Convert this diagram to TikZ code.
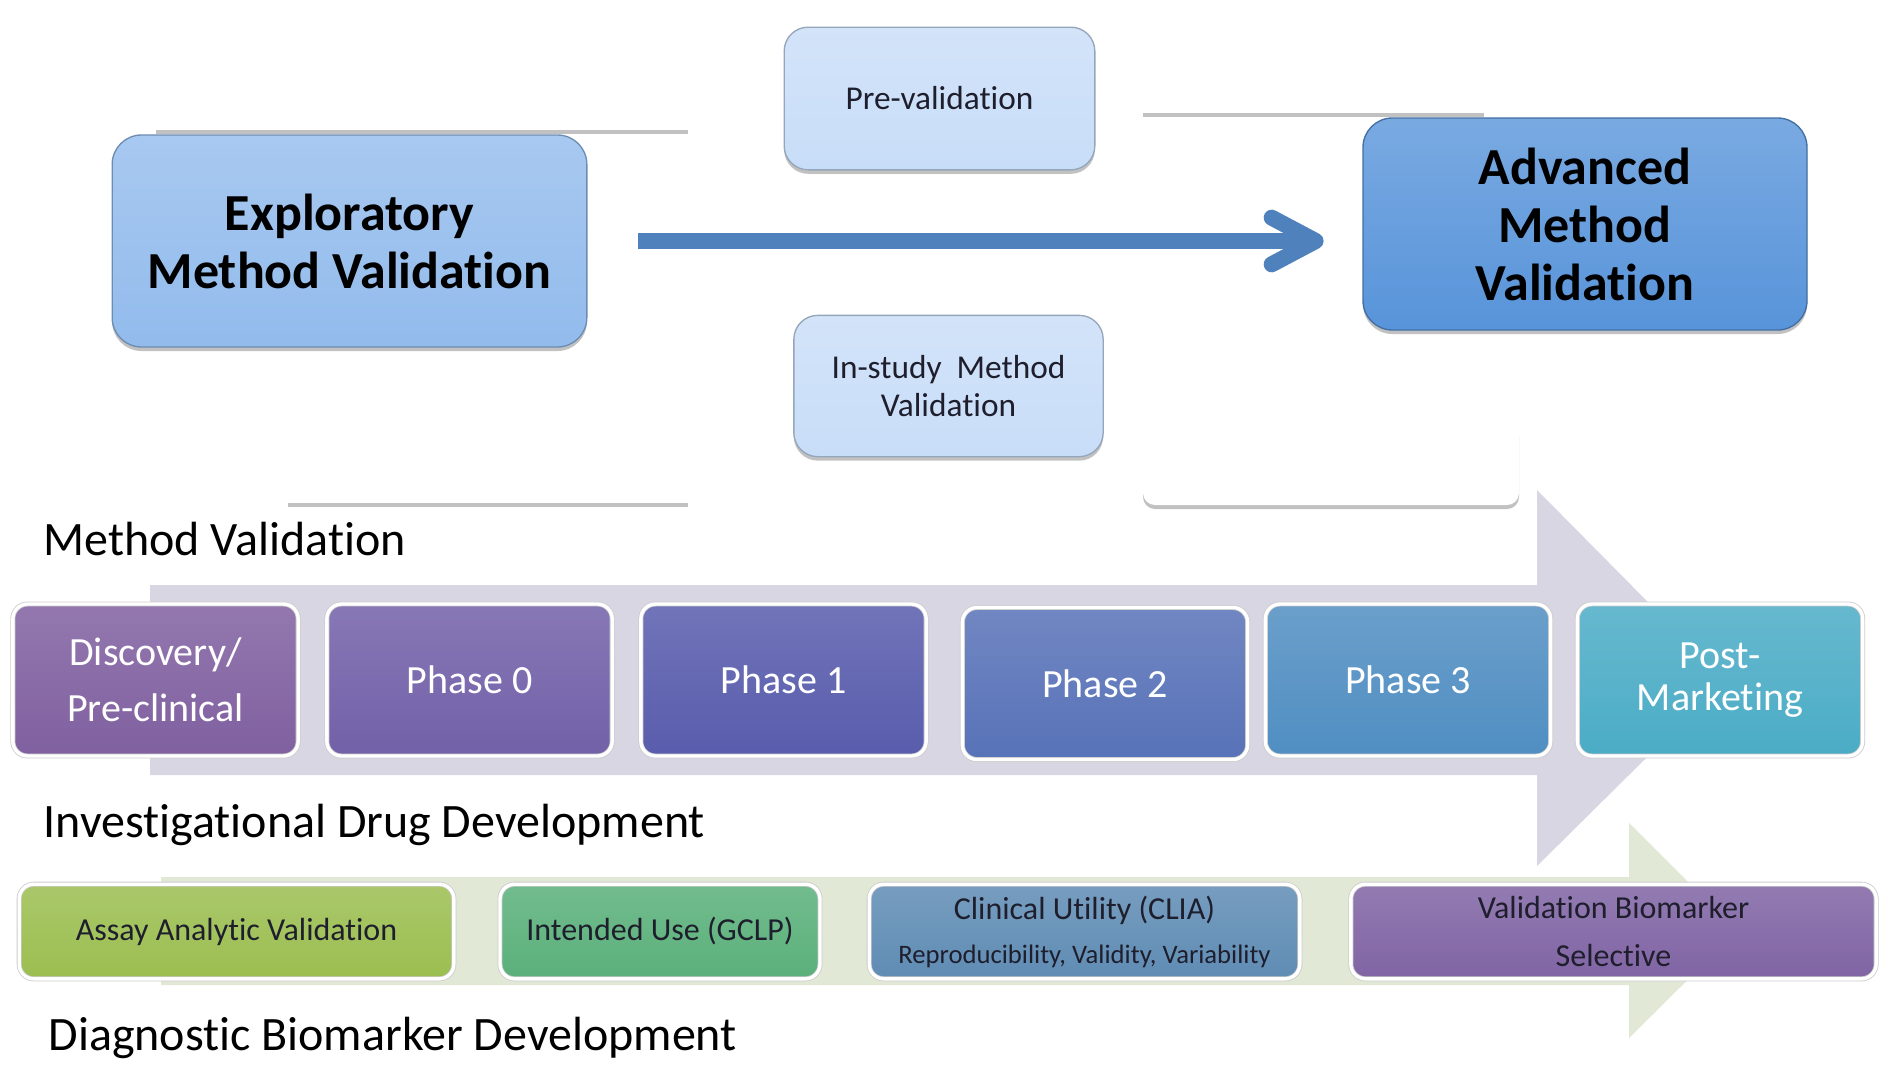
\documentclass[tikz,border=0pt]{standalone}
\usepackage{fontspec}
\setmainfont{Carlito}[Ligatures=NoCommon]
\usetikzlibrary{arrows.meta,shadows}

\definecolor{explofill}{RGB}{146,187,236}
\definecolor{advfill}{RGB}{88,148,218}
\definecolor{prefill}{RGB}{200,221,248}
\definecolor{flowblue}{RGB}{79,129,189}
\definecolor{lavband}{RGB}{217,214,228}
\definecolor{greenband}{RGB}{226,232,214}
\definecolor{discfill}{RGB}{128,96,160}
\definecolor{phzerofill}{RGB}{114,96,168}
\definecolor{phonefill}{RGB}{88,92,172}
\definecolor{phtwofill}{RGB}{88,114,184}
\definecolor{phthreefill}{RGB}{80,142,194}
\definecolor{postfill}{RGB}{75,172,198}
\definecolor{assayfill}{RGB}{155,190,80}
\definecolor{intendfill}{RGB}{90,176,122}
\definecolor{clinfill}{RGB}{95,140,180}
\definecolor{biofill}{RGB}{128,100,164}
\definecolor{darktext}{RGB}{30,30,45}

\tikzset{every picture/.style={line width=0.75pt}}
\tikzset{
  softshadow/.style={drop shadow={shadow xshift=0pt, shadow yshift=-3pt, opacity=0.4, fill=black!60}},
  blankbox/.style={fill=white, draw=none, softshadow},
  bigbox/.style={rounded corners=22pt, draw=#1!75!black, line width=1pt, top color=#1!80!white, bottom color=#1, softshadow, align=center, text=black, inner sep=0pt, font=\fontsize{39}{43.5}\selectfont\bfseries},
  smallbox/.style={bigbox=#1, font=\fontsize{25}{29}\selectfont, text=darktext, rounded corners=18pt},
  rowbox/.style={rounded corners=11pt, draw=black!20, double=white, double distance=2.5pt, line width=0.6pt, top color=#1!85!white, bottom color=#1, minimum width=214pt, minimum height=114pt, inner sep=0pt, align=center, text=white, font=\fontsize{30}{42}\selectfont},
  botbox/.style={rowbox=#1, minimum height=71pt, text=darktext, font=\fontsize{24}{36}\selectfont},
  rowlabel/.style={anchor=base west, inner sep=0pt, font=\fontsize{36}{43}\selectfont},
}

\begin{document}
\begin{tikzpicture}[x=0.75pt,y=0.75pt,yscale=-1,xscale=1]
\path [use as bounding box, fill=white] (0,0) rectangle (1881,1064);

% Shape: Right Arrow
\fill [lavband] (150,585) -- (1537,585) -- (1537,490) -- (1725,680) -- (1537,866) -- (1537,775) -- (150,775) -- cycle;
% Shape: Right Arrow
\fill [greenband] (161,877) -- (1629,877) -- (1629,823) -- (1737,931) -- (1629,1038) -- (1629,985) -- (161,985) -- cycle;

% Shape: Rectangle
\path [blankbox] (156,-10) rectangle (688,130);
% Shape: Rectangle
\path [blankbox] (288,388) rectangle (688,503);
% Shape: Rectangle
\path [blankbox] (1143,22) rectangle (1484,113);
% Shape: Rectangle
\path [blankbox, rounded corners=9pt] (1143,420) rectangle (1519,505);

% Text Node
\node [bigbox=explofill, minimum width=356pt, minimum height=159pt] (explo) at (349.5,241) {Exploratory\\Method Validation};
% Text Node
\node [bigbox=advfill, minimum width=333pt, minimum height=159pt] (adv) at (1585,224) {Advanced\\Method\\Validation};
% Text Node
\node [smallbox=prefill, minimum width=233pt, minimum height=107pt] (prevalid) at (939.5,98.5) {Pre-validation};
% Text Node
\node [smallbox=prefill, minimum width=232pt, minimum height=106pt] (instudy) at (948.5,386) {In-study\ \ Method\\Validation};

% Connection
\draw [flowblue, line width=12pt, -{Straight Barb[length=33pt,width=35pt,round]}, shorten <=38pt, shorten >=29pt] (explo.east) -- (explo.east -| adv.west);

% Text Node
\node [rowlabel] (lblmethod) at (43,555) {Method Validation};
% Text Node
\node [rowlabel] (lbldrug) at (43,837) {Investigational Drug Development};
% Text Node
\node [rowlabel] (lbldiag) at (48,1050) {Diagnostic Biomarker Development};

% Text Node
\node [rowbox=discfill] (disc) at (155.5,680) {Discovery/\\Pre-clinical};
% Text Node
\node [rowbox=phzerofill] (phase0) at (469.5,680) {Phase 0};
% Text Node
\node [rowbox=phonefill] (phase1) at (783.5,680) {Phase 1};
% Text Node
\node [rowbox=phtwofill] (phase2) at (1105,683.5) {Phase 2};
% Text Node
\node [rowbox=phthreefill] (phase3) at (1408,680) {Phase 3};
% Text Node
\node [rowbox=postfill, font=\fontsize{30}{32}\selectfont] (post) at (1720,680) {Post-\\Marketing};

% Text Node
\node [botbox=assayfill, minimum width=326pt] (assay) at (236.5,931.5) {Assay Analytic Validation};
% Text Node
\node [botbox=intendfill, minimum width=240pt] (intended) at (660,931.5) {Intended Use (GCLP)};
% Text Node
\node [botbox=clinfill, minimum width=323pt, font=\fontsize{24}{33}\selectfont] (clinical) at (1084.5,931.5) {Clinical Utility (CLIA)\\{\fontsize{20}{24}\selectfont Reproducibility, Validity, Variability}};
% Text Node
\node [botbox=biofill, minimum width=394pt] (biomarker) at (1613.5,931.5) {Validation Biomarker\\Selective};

\end{tikzpicture}
\end{document}
